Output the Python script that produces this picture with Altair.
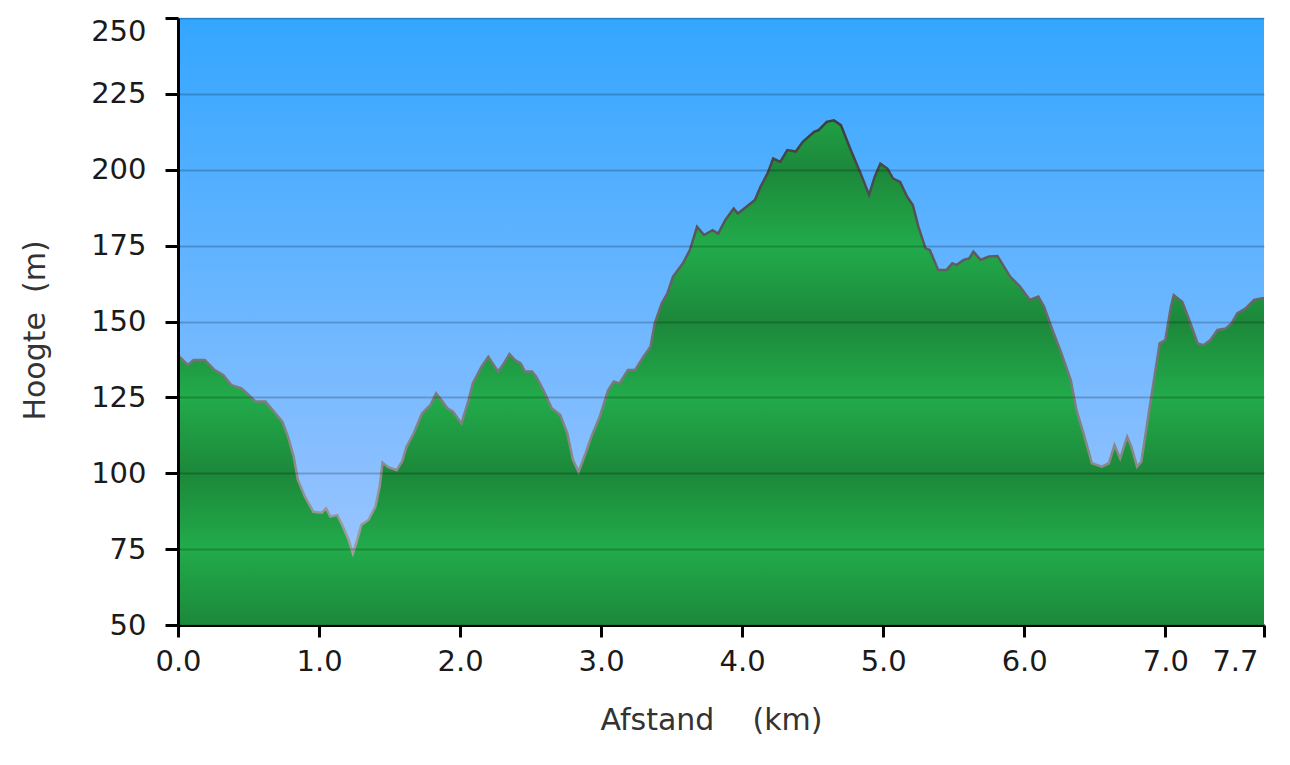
import altair as alt
import pandas as pd
import numpy as np

# ---- data ----
km = [0.0, 0.01, 0.07, 0.11, 0.19, 0.26, 0.32, 0.38, 0.45, 0.49, 0.55, 0.62, 0.68, 0.74, 0.78,
      0.82, 0.85, 0.90, 0.96, 1.02, 1.05, 1.08, 1.13, 1.17, 1.21, 1.24, 1.27, 1.30, 1.35, 1.40,
      1.43, 1.45, 1.49, 1.55, 1.59, 1.62, 1.67, 1.73, 1.79, 1.83, 1.87, 1.91, 1.95, 2.01, 2.06,
      2.09, 2.15, 2.20, 2.27, 2.31, 2.35, 2.39, 2.43, 2.46, 2.51, 2.54, 2.59, 2.65, 2.71, 2.76,
      2.80, 2.84, 2.89, 2.93, 2.99, 3.05, 3.09, 3.13, 3.19, 3.24, 3.30, 3.35, 3.38, 3.43, 3.47,
      3.51, 3.58, 3.63, 3.68, 3.73, 3.79, 3.83, 3.88, 3.94, 3.97, 4.03, 4.09, 4.13, 4.18, 4.22,
      4.27, 4.32, 4.38, 4.43, 4.51, 4.54, 4.60, 4.65, 4.70, 4.77, 4.84, 4.90, 4.94, 4.98, 5.03,
      5.07, 5.12, 5.17, 5.21, 5.25, 5.30, 5.33, 5.39, 5.45, 5.49, 5.52, 5.57, 5.61, 5.64, 5.69,
      5.75, 5.81, 5.85, 5.90, 5.97, 6.04, 6.10, 6.14, 6.20, 6.26, 6.33, 6.37, 6.42, 6.48, 6.55,
      6.60, 6.64, 6.68, 6.73, 6.76, 6.80, 6.83, 6.89, 6.96, 7.00, 7.04, 7.06, 7.12, 7.17, 7.23,
      7.27, 7.32, 7.37, 7.43, 7.47, 7.51, 7.57, 7.63, 7.69, 7.70]
elev = [139.0, 138.4, 135.7, 137.3, 137.3, 134.0, 132.4, 129.0, 128.0, 126.3, 123.6, 123.6, 120.3, 117.0, 112.0,
        105.5, 97.8, 92.3, 87.3, 87.0, 88.4, 85.7, 86.2, 82.4, 78.0, 73.6, 78.0, 83.0, 84.6, 89.0,
        95.6, 103.5, 102.0, 101.0, 104.0, 108.7, 113.0, 119.7, 122.5, 126.3, 124.0, 121.4, 120.3, 116.4, 124.0,
        129.6, 135.0, 138.4, 133.5, 136.2, 139.3, 137.3, 136.2, 133.5, 133.5, 131.8, 127.4, 121.4, 119.2, 113.2,
        104.4, 100.5, 106.6, 112.0, 118.6, 127.4, 130.2, 129.6, 134.0, 134.0, 138.4, 141.7, 149.4, 156.0, 159.3,
        164.8, 169.2, 173.6, 181.2, 178.5, 180.1, 179.0, 183.4, 187.2, 185.6, 187.8, 190.0, 194.4, 198.8, 203.7,
        202.6, 206.5, 206.0, 209.2, 212.5, 213.0, 215.8, 216.3, 214.7, 206.5, 198.8, 191.7, 197.7, 202.0, 200.4,
        197.1, 196.0, 191.1, 188.4, 181.2, 174.1, 173.6, 167.0, 167.0, 169.2, 168.6, 170.3, 170.8, 173.0, 170.3,
        171.4, 171.6, 168.6, 164.8, 161.5, 157.1, 158.2, 154.9, 147.2, 140.0, 130.7, 120.8, 113.2, 103.3, 102.2,
        103.3, 109.3, 104.9, 112.0, 108.7, 102.2, 103.8, 121.9, 142.8, 143.9, 154.9, 158.7, 156.5, 150.5, 142.8,
        142.2, 143.9, 147.2, 147.7, 149.4, 152.7, 154.3, 157.1, 157.7, 157.7]

x_ticks = [0, 1, 2, 3, 4, 5, 6, 7, 7.7]
y_ticks = [50, 75, 100, 125, 150, 175, 200, 225, 250]

df = pd.DataFrame({"km": km, "elev": elev})

W, H = 1086, 607
FONT = "DejaVu Sans"

# ---- styling: banded green gradient (dark at multiples of 50, light between) ----
LIGHT = np.array([34, 171, 75])
DARK = np.array([28, 136, 58])
top = max(elev)


def band_color(v):
    t = abs(((v - 50) % 50) - 25) / 25.0  # 1 at multiples of 50, 0 at odd 25s
    c = LIGHT * (1 - t) + DARK * t
    return "#%02x%02x%02x" % tuple(int(round(u)) for u in c)


levels = [top] + [v for v in [200, 175, 150, 125, 100, 75, 50] if v < top]
green_stops = [alt.GradientStop(color=band_color(v), offset=float((top - v) / (top - 50)))
               for v in levels]
green = alt.Gradient(gradient="linear", stops=green_stops, x1=0, x2=0, y1=0, y2=1)

sky = alt.Gradient(gradient="linear",
                   stops=[alt.GradientStop(color="#33a6ff", offset=0),
                          alt.GradientStop(color="#a8c8ff", offset=1)],
                   x1=0, x2=0, y1=0, y2=1)

outline = alt.Gradient(gradient="linear",
                       stops=[alt.GradientStop(color="#3d3d3d", offset=0),
                              alt.GradientStop(color="#a0a0a0", offset=1)],
                       x1=0, x2=0, y1=0, y2=1)

xs = alt.Scale(domain=[0, 7.7], nice=False, zero=False)
ys = alt.Scale(domain=[50, 250], nice=False, zero=False)

bg = alt.Chart(pd.DataFrame({"a": [0]})).mark_rect(fill=sky).encode(
    x=alt.value(0), x2=alt.value(W), y=alt.value(0), y2=alt.value(H)
)

area = alt.Chart(df).mark_area(fill=green, interpolate="linear").encode(
    x=alt.X("km:Q", scale=xs,
            axis=alt.Axis(values=x_ticks, format=".1f", title="Afstand\u00a0\u00a0\u00a0\u00a0(km)",
                          grid=False, tickSize=12, tickWidth=3, tickColor="black",
                          domainColor="black", domainWidth=3, labelPadding=10,
                          labelAlign={"condition": {"test": "datum.value > 7.5", "value": "right"},
                                      "value": "center"},
                          labelOffset={"condition": {"test": "datum.value > 7.5", "value": -6},
                                       "value": 0},
                          titleX=533, titleY=95, titleBaseline="middle", titleAlign="center",
                          labelFlush=False)),
    y=alt.Y("elev:Q", scale=ys,
            axis=alt.Axis(values=y_ticks, title="Hoogte\u00a0\u00a0(m)", grid=True,
                          gridColor="black", gridOpacity=0.2, gridWidth=2,
                          tickSize=13, tickWidth=3, tickColor="black",
                          domainColor="black", domainWidth=3, labelPadding=19,
                          labelBaseline={"condition": {"test": "datum.value > 240", "value": "top"},
                                         "value": "middle"},
                          labelOffset={"condition": {"test": "datum.value > 240", "value": -1},
                                       "value": 0},
                          titleX=-143, titleY=312, titleAngle=270,
                          titleBaseline="middle", titleAlign="center", zindex=1)),
    y2=alt.datum(50),
)

line = alt.Chart(df).mark_line(stroke=outline, strokeWidth=2.5, interpolate="linear").encode(
    x=alt.X("km:Q", scale=xs),
    y=alt.Y("elev:Q", scale=ys),
)

chart = alt.layer(bg, area, line).properties(
    width=W, height=H,
    autosize=alt.AutoSizeParams(type="none"),
    padding={"left": 170, "top": 10, "right": 10, "bottom": 120},
    background="white",
).configure_view(stroke=None).configure_axis(
    labelFont=FONT, labelFontSize=29, labelColor="#1a1a1a",
    titleFont=FONT, titleFontSize=30, titleColor="#333333", titleFontWeight="normal",
)

chart.save("out.html", embed_options={"renderer": "svg", "actions": False})
